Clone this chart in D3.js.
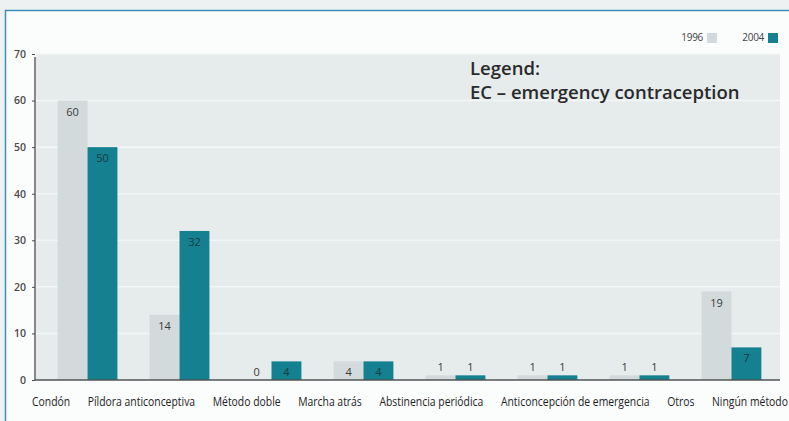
<!DOCTYPE html>
<html>
<head>
<meta charset="utf-8">
<script src="https://cdn.jsdelivr.net/npm/d3@7"></script>
<style>
  html, body { margin: 0; padding: 0; background: #eef1f1; }
  svg { display: block; }
  .y-axis text { font-family: "Open Sans", sans-serif; font-weight: 600; font-size: 10.5px; fill: #4a4a4a; }
  .y-axis line, .y-axis path { stroke: #4a4a4a; }
</style>
</head>
<body>
<svg id="chart"></svg>
<script>
const categories = ["Condón", "Píldora anticonceptiva", "Método doble", "Marcha atrás",
  "Abstinencia periódica", "Anticoncepción de emergencia", "Otros", "Ningún método"];
const series = ["1996", "2004"];
const values1996 = [60, 14, 0, 4, 1, 1, 1, 19];
const values2004 = [50, 32, 4, 4, 1, 1, 1, 7];
const yTicks = [0, 10, 20, 30, 40, 50, 60, 70];
const legendTitle = "Legend:";
const legendNote = "EC – emergency contraception";

const width = 789, height = 421;
const colors = { "1996": "#d2dadb", "2004": "#15808f" };
const plot = { left: 36, right: 780, top: 54, bottom: 380 };

const svg = d3.select("#chart").attr("width", width).attr("height", height);

// outer frame
svg.append("rect").attr("x", 5.5).attr("y", 10.5)
  .attr("width", width).attr("height", height)
  .attr("fill", "#fbfcfc").attr("stroke", "#3b8fbd").attr("stroke-width", 1.5);

// plot background
svg.append("rect").attr("x", plot.left).attr("y", plot.top)
  .attr("width", plot.right - plot.left).attr("height", plot.bottom - plot.top)
  .attr("fill", "#e6ebec");

const y = d3.scaleLinear().domain([0, 70]).range([plot.bottom, plot.top]);

const x0 = d3.scaleBand().domain(categories).range([42, 777]).paddingInner(0.35).paddingOuter(0.17);
const x1 = d3.scaleBand().domain(series).range([0, x0.bandwidth()]);

// grid
svg.append("g").selectAll("line").data(yTicks.slice(1)).join("line")
  .attr("x1", plot.left).attr("x2", plot.right)
  .attr("y1", d => y(d)).attr("y2", d => y(d))
  .attr("stroke", "#f3f6f6").attr("stroke-width", 1.5);

const data = categories.map((c, i) => ({ cat: c, vals: [
  { s: "1996", v: values1996[i] }, { s: "2004", v: values2004[i] }] }));

const groups = svg.append("g").selectAll("g").data(data).join("g")
  .attr("transform", d => `translate(${x0(d.cat)},0)`);

groups.selectAll("rect").data(d => d.vals).join("rect")
  .attr("x", d => x1(d.s)).attr("width", x1.bandwidth())
  .attr("y", d => y(d.v)).attr("height", d => y(0) - y(d.v))
  .attr("fill", d => colors[d.s]);

groups.selectAll("text").data(d => d.vals).join("text")
  .attr("x", d => x1(d.s) + x1.bandwidth() / 2)
  .attr("y", d => d.v >= 4 ? y(d.v) + 15 : y(d.v) - 4)
  .attr("text-anchor", "middle")
  .attr("font-family", "Open Sans, sans-serif").attr("font-size", 11)
  .attr("fill", d => d.s === "2004" && d.v >= 4 ? "#123c44" : "#3a3a3a")
  .text(d => d.v);

// y axis
svg.append("g").attr("class", "y-axis")
  .attr("transform", `translate(${plot.left - 1},0)`)
  .call(d3.axisLeft(y).tickValues(yTicks).tickSize(3).tickPadding(6))
  .call(g => g.select(".domain").attr("d", `M0,${y(70) + 3}V${y(0)}`).attr("stroke-width", 1.3));

// baseline
svg.append("line").attr("x1", plot.left - 1).attr("x2", plot.right)
  .attr("y1", y(0)).attr("y2", y(0))
  .attr("stroke", "#4f5455").attr("stroke-width", 1.6);

// category labels, condensed and flowed across the bottom like a justified line
const squeeze = 0.8;
const labels = svg.append("g").selectAll("text").data(categories).join("text")
  .attr("font-family", "Open Sans, sans-serif")
  .attr("font-size", 13).attr("fill", "#1e1e1e")
  .text(d => d);
const widths = labels.nodes().map(n => n.getComputedTextLength() * squeeze);
const startX = 32, endX = 788;
const gap = (endX - startX - d3.sum(widths)) / (categories.length - 1);
let cx = startX;
labels.attr("transform", (d, i) => {
  const p = cx; cx += widths[i] + gap;
  return `translate(${p},406) scale(${squeeze},1)`;
});

// series legend
const leg = svg.append("g").attr("transform", "translate(0,41)");
[["1996", 703, 707], ["2004", 764, 768]].forEach(([s, tx, bx]) => {
  leg.append("text").attr("x", tx).attr("y", 0).attr("text-anchor", "end")
    .attr("font-family", "Open Sans, sans-serif").attr("font-size", 10)
    .attr("letter-spacing", -0.3)
    .attr("fill", "#444").text(s);
  leg.append("rect").attr("x", bx).attr("y", -8).attr("width", 10).attr("height", 10)
    .attr("fill", colors[s]);
});

// note
svg.append("text").attr("x", 470).attr("y", 75)
  .attr("font-family", "Open Sans, sans-serif").attr("font-weight", 600)
  .attr("font-size", 18.5).attr("fill", "#2a2a2a").text(legendTitle);
svg.append("text").attr("x", 470).attr("y", 99)
  .attr("font-family", "Open Sans, sans-serif").attr("font-weight", 600)
  .attr("font-size", 18.5).attr("fill", "#2a2a2a").text(legendNote);
</script>
</body>
</html>
